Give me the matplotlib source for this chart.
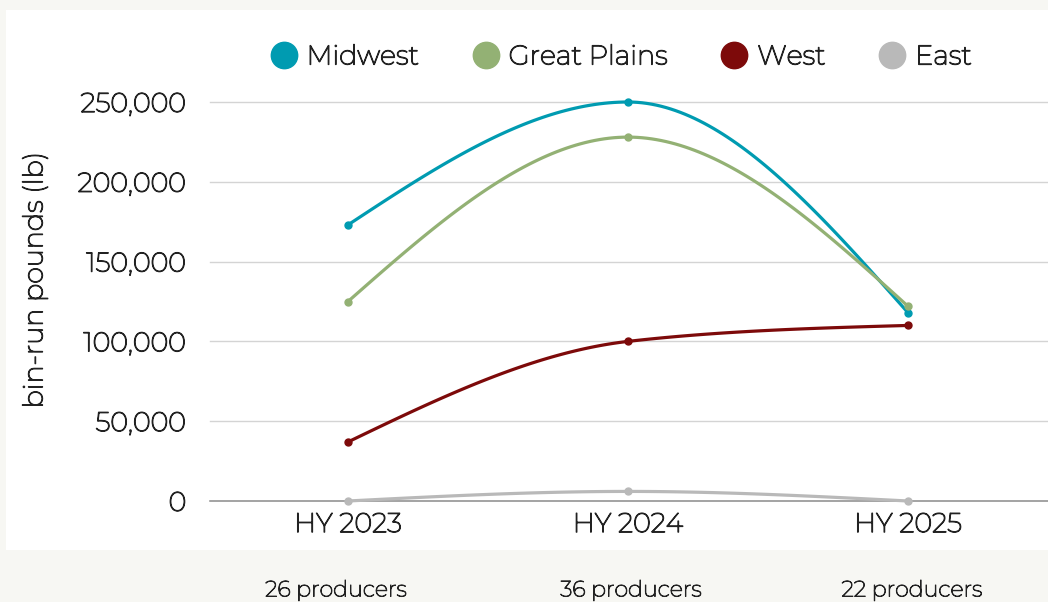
import numpy as np
import matplotlib
matplotlib.use("Agg")
import matplotlib.pyplot as plt
import matplotlib.patheffects as pe
from matplotlib.lines import Line2D
from matplotlib.patches import Rectangle

plt.rcParams['font.family'] = ['Montserrat', 'Lato', 'DejaVu Sans']
TXT = "#222222"
FX = [pe.withStroke(linewidth=0.9, foreground=TXT)]
FS = 19.5

categories = ["HY 2023", "HY 2024", "HY 2025"]
producers = [26, 36, 22]
series_names = ["Midwest", "Great Plains", "West", "East"]
midwest = [173000, 250000, 118000]
great_plains = [125000, 228000, 122000]
west = [37000, 100000, 110000]
east = [0, 6000, 0]
colors = ["#009bb1", "#93b174", "#7d0a0a", "#b9b9b9"]
yticks = [0, 50000, 100000, 150000, 200000, 250000]


def monotone_x(xs, ys, n=60):
    xs = np.asarray(xs, float); ys = np.asarray(ys, float)
    h = np.diff(xs); s = np.diff(ys) / h
    m = len(xs)
    t = np.zeros(m)
    for i in range(1, m - 1):
        s0, s1 = s[i - 1], s[i]
        p = (s0 * h[i] + s1 * h[i - 1]) / (h[i - 1] + h[i])
        t[i] = (np.sign(s0) + np.sign(s1)) * min(abs(s0), abs(s1), 0.5 * abs(p))
    t[0] = (3 * s[0] - t[1]) / 2
    t[-1] = (3 * s[-1] - t[-2]) / 2
    px, py = [], []
    for i in range(m - 1):
        dx = h[i] / 3
        P0 = (xs[i], ys[i]); P1 = (xs[i] + dx, ys[i] + dx * t[i])
        P2 = (xs[i + 1] - dx, ys[i + 1] - dx * t[i + 1]); P3 = (xs[i + 1], ys[i + 1])
        u = np.linspace(0, 1, n)
        bx = (1-u)**3*P0[0] + 3*(1-u)**2*u*P1[0] + 3*(1-u)*u**2*P2[0] + u**3*P3[0]
        by = (1-u)**3*P0[1] + 3*(1-u)**2*u*P1[1] + 3*(1-u)*u**2*P2[1] + u**3*P3[1]
        px.extend(bx); py.extend(by)
    return np.array(px), np.array(py)


W, H = 1048, 602
fig = plt.figure(figsize=(W / 100, H / 100), dpi=100)
fig.patch.set_facecolor("#f7f7f3")
fig.patches.append(Rectangle((6 / W, 1 - 550 / H), 1 - 6 / W, (550 - 10) / H,
                             transform=fig.transFigure, facecolor="white",
                             edgecolor="none", zorder=-10))

ax = fig.add_axes([210 / W, 1 - 501 / H, (W - 210) / W, (501 - 102) / H])
ax.set_zorder(5)
ax.set_facecolor("none")
ax.set_xlim(-138 / 280, 700 / 280)
ax.set_ylim(0, 250000)
for sp in ax.spines.values():
    sp.set_visible(False)
ax.set_yticks(yticks)
ax.set_yticklabels([f"{v:,}" for v in yticks], fontsize=FS, color=TXT)
ax.set_xticks(range(len(categories)))
ax.set_xticklabels(categories, fontsize=FS, color=TXT)
for lab in ax.get_xticklabels() + ax.get_yticklabels():
    lab.set_path_effects(FX)
ax.tick_params(axis="both", length=0)
ax.tick_params(axis="y", pad=17)
ax.tick_params(axis="x", pad=8)
for v in yticks[1:]:
    ax.axhline(v, color="#d4d4d4", lw=1, zorder=1, clip_on=False)
ax.axhline(0, color="#8a8a8a", lw=1.1, zorder=1, clip_on=False)
yl = ax.set_ylabel("bin-run pounds (lb)", fontsize=FS, color=TXT)
yl.set_path_effects(FX)
ax.yaxis.set_label_coords((35 - 210) / (W - 210), (501 - 280) / 399)
yl.set_va("center")

xs = np.arange(len(categories))
data = [midwest, great_plains, west, east]
for name, vals, c in zip(series_names, data, colors):
    px, py = monotone_x(xs, vals)
    ax.plot(px, py, color=c, lw=2.3, zorder=3, clip_on=False, solid_capstyle="round")
    ax.plot(xs, vals, "o", color=c, ms=5, zorder=4, clip_on=False)

handles = [Line2D([], [], ls="none", marker="o", ms=19, color=c) for c in colors]
leg = fig.legend(handles, series_names, loc="center", bbox_to_anchor=(621 / W, 1 - 57 / H),
                 ncol=4, frameon=False, fontsize=FS, handletextpad=0.35, columnspacing=1.95,
                 handlelength=1.0)
for t in leg.get_texts():
    t.set_color(TXT)
    t.set_path_effects(FX)

label_x = [336, 631, 912]
for lx, p in zip(label_x, producers):
    fig.text(lx / W, 1 - 590 / H, f"{p} producers", ha="center", va="center",
             fontsize=16, color=TXT, path_effects=[pe.withStroke(linewidth=0.7, foreground=TXT)])

fig.savefig("out.png", dpi=100, facecolor=fig.get_facecolor())
